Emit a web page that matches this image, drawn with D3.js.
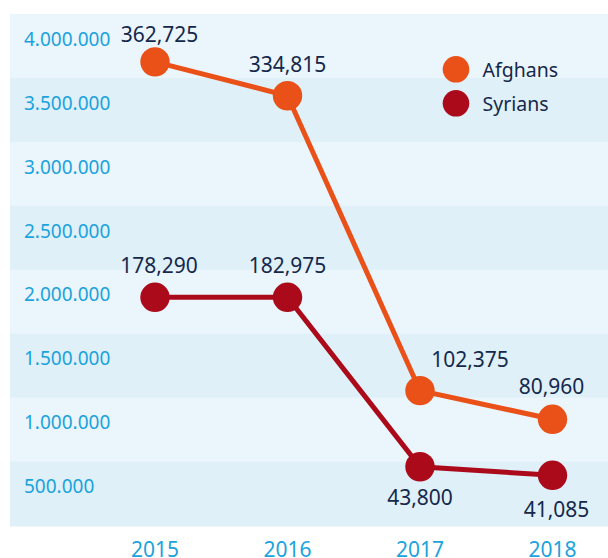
<!DOCTYPE html>
<html>
<head>
<meta charset="utf-8">
<script src="https://cdn.jsdelivr.net/npm/d3@7"></script>
<style>
  html, body { margin: 0; padding: 0; background: #fff; }
  svg { display: block; font-family: "Noto Sans", sans-serif; }
</style>
</head>
<body>
<svg width="608" height="558"></svg>
<script>
const width = 608, height = 558;
const svg = d3.select("svg");

// Data
const years = ["2015", "2016", "2017", "2018"];
const tickValues = [4000000, 3500000, 3000000, 2500000, 2000000, 1500000, 1000000, 500000];
const afghans = [3815000, 3550000, 1244000, 1020000];
const syrians = [1974000, 1974000, 649000, 582000];
const afghanLabels = ["362,725", "334,815", "102,375", "80,960"];
const syrianLabels = ["178,290", "182,975", "43,800", "41,085"];

const series = [
    { name: "Afghans", values: afghans, labels: afghanLabels, color: "#e95118",
      offsets: [[4.5, -20], [0, -23.5], [50, -24], [-1, -25]] },
    { name: "Syrians", values: syrians, labels: syrianLabels, color: "#ab0a1b",
      offsets: [[4, -24], [0, -24], [0, 38.5], [4, 41.5]] }
];

const x = d3.scalePoint().domain(years).range([155, 552.5]);
const y = d3.scaleLinear().domain([500000, 4000000]).range([485.8, 38.2]);

// Striped background bands
svg.append("g").selectAll("rect")
    .data(tickValues)
    .enter().append("rect")
    .attr("x", 10)
    .attr("width", width - 10)
    .attr("y", d => y(d) - 24.2)
    .attr("height", d => y(d - 500000) - y(d) + (d === 500000 ? 1 : 0.3))
    .attr("fill", (d, i) => i % 2 === 0 ? "#ebf5fc" : "#dff0f9");

// y tick labels
svg.append("g").selectAll("text")
    .data(tickValues)
    .enter().append("text")
    .attr("x", 24)
    .attr("y", d => y(d) + 7.5)
    .attr("fill", "#1aa3dc")
    .style("font-size", "19px")
    .text(d => d3.format(",")(d).replace(/,/g, "."));

// x labels
svg.append("g").selectAll("text")
    .data(years)
    .enter().append("text")
    .attr("x", d => x(d))
    .attr("y", 556.5)
    .attr("text-anchor", "middle")
    .attr("fill", "#1aa3dc")
    .style("font-size", "21px")
    .text(d => d);

const line = d3.line()
    .x((d, i) => x(years[i]))
    .y(d => y(d));

series.forEach(s => {
    const g = svg.append("g");

    g.append("path")
        .datum(s.values)
        .attr("d", line)
        .attr("fill", "none")
        .attr("stroke", s.color)
        .attr("stroke-width", 5);

    g.selectAll("circle")
        .data(s.values)
        .enter().append("circle")
        .attr("cx", (d, i) => x(years[i]))
        .attr("cy", d => y(d))
        .attr("r", 14.7)
        .attr("fill", s.color);

    g.selectAll("text")
        .data(s.values)
        .enter().append("text")
        .attr("x", (d, i) => x(years[i]) + s.offsets[i][0])
        .attr("y", (d, i) => y(d) + s.offsets[i][1])
        .attr("text-anchor", "middle")
        .attr("fill", "#15284b")
        .style("font-size", "21px")
        .text((d, i) => s.labels[i]);
});

// Legend
const legend = svg.append("g")
    .selectAll("g")
    .data(series)
    .enter().append("g")
    .attr("transform", (d, i) => `translate(456,${69.3 + i * 34})`);

legend.append("circle")
    .attr("r", 13.3)
    .attr("fill", d => d.color);

legend.append("text")
    .attr("x", 26.5)
    .attr("y", 7.5)
    .attr("fill", "#15284b")
    .style("font-size", "19.5px")
    .text(d => d.name);
</script>
</body>
</html>
